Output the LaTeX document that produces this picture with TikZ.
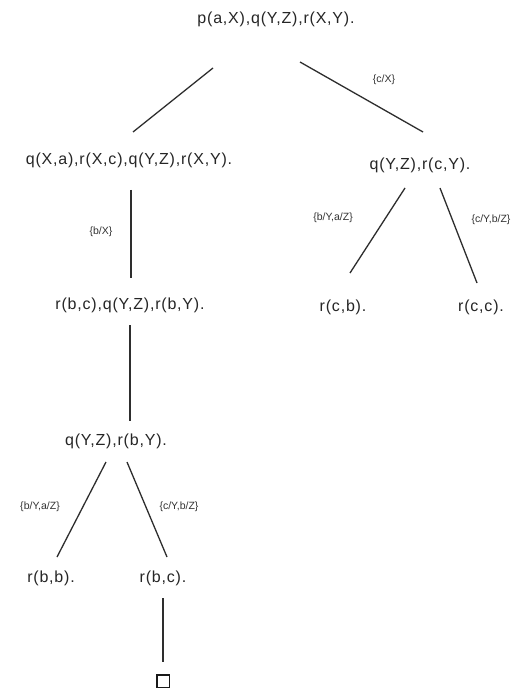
\documentclass[tikz,border=0pt]{standalone}
\usepackage{fontspec}
\setmainfont{Liberation Sans}
\begin{document}
\begin{tikzpicture}[x=1pt,y=-1pt,
  goal/.style={inner sep=1pt, font=\fontsize{16}{18}\selectfont\addfontfeatures{LetterSpace=5.0}, text=black!85},
  sub/.style={inner sep=1pt, font=\fontsize{10.5}{12}\selectfont, text=black!80},
  edge/.style={line width=1.3pt, draw=black!82},
  emptyc/.style={draw=black!90, line width=1.5pt, minimum size=12.5pt, inner sep=0pt}]
\useasboundingbox[fill=white] (0,0) rectangle (524,692);
% goals
\node[goal] (n0) at (276,19) {p(a,X),q(Y,Z),r(X,Y).};
\node[goal] (n1) at (129,160) {q(X,a),r(X,c),q(Y,Z),r(X,Y).};
\node[goal] (n2) at (420,165) {q(Y,Z),r(c,Y).};
\node[goal] (n3) at (130,305) {r(b,c),q(Y,Z),r(b,Y).};
\node[goal] (n4) at (343,307) {r(c,b).};
\node[goal] (n5) at (481,307) {r(c,c).};
\node[goal] (n6) at (116,441) {q(Y,Z),r(b,Y).};
\node[goal] (n7) at (51,578) {r(b,b).};
\node[goal] (n8) at (163,578) {r(b,c).};
\node[emptyc] (n9) at (163,681) {};
% connector end points
\coordinate (a0) at (213,68);
\coordinate (a1) at (133,132);
\coordinate (b0) at (300,62);
\coordinate (b1) at (423,132);
\coordinate (c0) at (131,190);
\coordinate (c1) at (131,278);
\coordinate (d0) at (405,188);
\coordinate (d1) at (350,273);
\coordinate (e0) at (440,188);
\coordinate (e1) at (477,283);
\coordinate (f0) at (130,325);
\coordinate (f1) at (130,421);
\coordinate (g0) at (106,462);
\coordinate (g1) at (57,557);
\coordinate (h0) at (127,462);
\coordinate (h1) at (167,557);
\coordinate (i0) at (163,598);
\coordinate (i1) at (163,662);
\draw[edge] (a0) -- (a1);
\draw[edge] (b0) -- (b1);
\draw[edge] (c0) -- (c1);
\draw[edge] (d0) -- (d1);
\draw[edge] (e0) -- (e1);
\draw[edge] (f0) -- (f1);
\draw[edge] (g0) -- (g1);
\draw[edge] (h0) -- (h1);
\draw[edge] (i0) -- (i1);
% substitutions
\node[sub] (s1) at (384,80) {\{c/X\}};
\node[sub] (s2) at (101,232) {\{b/X\}};
\node[sub] (s3) at (333,218) {\{b/Y,a/Z\}};
\node[sub] (s4) at (491,220) {\{c/Y,b/Z\}};
\node[sub] (s5) at (40,507) {\{b/Y,a/Z\}};
\node[sub] (s6) at (179,507) {\{c/Y,b/Z\}};
\end{tikzpicture}
\end{document}
